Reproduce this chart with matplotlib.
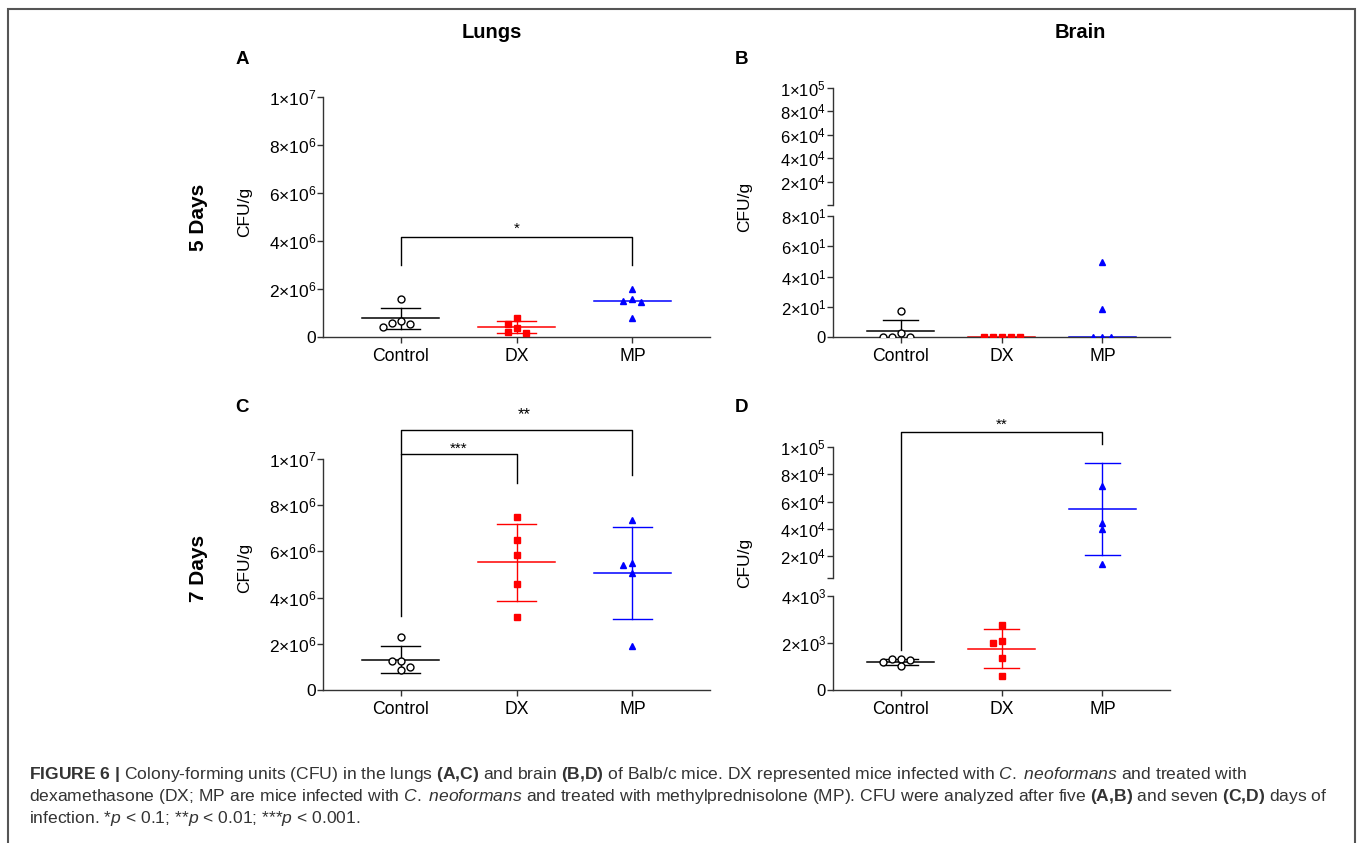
import matplotlib.pyplot as plt
import numpy as np
from matplotlib.lines import Line2D
from matplotlib.patches import Rectangle

plt.rcParams['font.family'] = ['Liberation Sans', 'DejaVu Sans']
plt.rcParams['mathtext.fontset'] = 'custom'
plt.rcParams['mathtext.rm'] = 'Liberation Sans'
plt.rcParams['mathtext.it'] = 'Liberation Sans:italic'
plt.rcParams['mathtext.bf'] = 'Liberation Sans:bold'

groups = ['Control', 'DX', 'MP']

# A: lungs, 5 days
a_control = [1.58e6, 0.65e6, 0.60e6, 0.55e6, 0.40e6]
a_dx = [0.78e6, 0.56e6, 0.39e6, 0.20e6, 0.18e6]
a_mp = [2.00e6, 1.58e6, 1.50e6, 1.44e6, 0.81e6]
a_centre = [0.78e6, 0.43e6, 1.51e6]
a_sd = [0.445e6, 0.255e6, 0]

# B: brain, 5 days
b_control = [17.3, 2.7, 0, 0, 0]
b_dx = [0, 0, 0, 0, 0]
b_mp = [49.3, 18.2, 0, 0, 0]
b_centre = [4.0, 0, 0]
b_sd = [7.5, 0, 0]

# C: lungs, 7 days
c_control = [2.30e6, 1.24e6, 1.24e6, 0.98e6, 0.86e6]
c_dx = [7.50e6, 6.50e6, 5.83e6, 4.59e6, 3.18e6]
c_mp = [7.38e6, 5.51e6, 5.40e6, 5.06e6, 1.90e6]
c_centre = [1.32e6, 5.52e6, 5.06e6]
c_sd = [0.575e6, 1.685e6, 1.98e6]

# D: brain, 7 days
d_control = [1.31e3, 1.30e3, 1.27e3, 1.20e3, 1.03e3]
d_dx = [2.76e3, 2.08e3, 2.01e3, 1.38e3, 0.59e3]
d_mp = [71.3e3, 44.5e3, 39.6e3, 14.1e3]
d_centre = [1.21e3, 1.765e3, 54.6e3]
d_sd = [0.13e3, 0.825e3, 33.5e3]

AX = '#333333'
RED = '#ff0000'
BLUE = '#0000ff'
W, H = 1360, 843

fig = plt.figure(figsize=(13.6, 8.43), dpi=100)


def box(l, r, top, bot):
    return [l / W, 1 - bot / H, (r - l) / W, (bot - top) / H]


def sci(m, e):
    return r'$\mathregular{%d{\times}10^{%d}}$' % (m, e)


def style(ax, ticks, labels, ysize, xaxis=True):
    ax.spines['top'].set_visible(False)
    ax.spines['right'].set_visible(False)
    for s in ['left', 'bottom']:
        ax.spines[s].set_color(AX)
        ax.spines[s].set_linewidth(1.0)
    ax.set_yticks(ticks)
    ax.set_yticklabels(labels)
    ax.tick_params(axis='y', direction='out', length=4, width=1, color=AX,
                   labelsize=ysize, pad=1)
    ax.set_xlim(-0.67, 2.67)
    if xaxis:
        ax.set_xticks([0, 1, 2])
        ax.set_xticklabels(groups)
        ax.tick_params(axis='x', direction='out', length=4, width=1, color=AX,
                       labelsize=12.7, pad=4)
    else:
        ax.spines['bottom'].set_visible(False)
        ax.set_xticks([])
    ax.patch.set_alpha(0)


def spread(ax, xc, vals, step=9, gap=6.5):
    to_px = ax.transData.transform
    unit = to_px((1, 0))[0] - to_px((0, 0))[0]
    placed, xs = [], []
    for v in vals:
        y = to_px((0, v))[1]
        dx = 0
        for k in [0, -1, 1, -2, 2, -3, 3]:
            dx = k * step
            if all(np.hypot(dx - px, y - py) >= gap for px, py in placed):
                break
        placed.append((dx, y))
        xs.append(xc + dx / unit)
    return xs


def draw_group(lo, hi, cut, xc, vals, centre, sd, color, marker, filled):
    mfc = color if filled else 'white'
    for ax, part in [(lo, [v for v in vals if v <= cut]),
                     (hi, [v for v in vals if v > cut])]:
        if ax is None or not part:
            continue
        xs = spread(ax, xc, part)
        ax.plot(xs, part, ls='none', marker=marker, ms=5, mfc=mfc, mec=color,
                mew=1, zorder=3)
    ax = hi if (hi is not None and centre > cut) else lo
    ax.plot([xc - 0.33, xc + 0.33], [centre, centre], color=color, lw=1.1, zorder=2)
    if sd > 0:
        ax.plot([xc, xc], [centre - sd, centre + sd], color=color, lw=1.0, zorder=2)
        for y in [centre - sd, centre + sd]:
            ax.plot([xc - 0.17, xc + 0.17], [y, y], color=color, lw=1.0, zorder=2)


def bracket(pts, star, star_at, size=12):
    inv = fig.transFigure.inverted()
    fp = [inv.transform(ax.transData.transform((x, y))) for ax, x, y in pts]
    fig.add_artist(Line2D([p[0] for p in fp], [p[1] for p in fp],
                          transform=fig.transFigure, color='black', lw=1.0))
    ax, x, y, off = star_at
    ax.annotate(star, (x, y), xytext=(0, off), textcoords='offset points',
                ha='center', va='bottom', fontsize=size, annotation_clip=False)


# panel A
axA = fig.add_axes(box(323, 710, 97, 337))
axA.set_ylim(0, 1e7)
style(axA, [0, 2e6, 4e6, 6e6, 8e6, 1e7],
      ['0', sci(2, 6), sci(4, 6), sci(6, 6), sci(8, 6), sci(1, 7)], 12.5)
# panel C
axC = fig.add_axes(box(323, 710, 459, 690))
axC.set_ylim(0, 1e7)
style(axC, [0, 2e6, 4e6, 6e6, 8e6, 1e7],
      ['0', sci(2, 6), sci(4, 6), sci(6, 6), sci(8, 6), sci(1, 7)], 12.5)

# panel B (broken axis)
axB_lo = fig.add_axes(box(833, 1170, 216, 337))
axB_lo.set_ylim(0, 80)
style(axB_lo, [0, 20, 40, 60, 80],
      ['0', sci(2, 1), sci(4, 1), sci(6, 1), sci(8, 1)], 12)
axB_hi = fig.add_axes(box(833, 1170, 88, 205))
axB_hi.set_ylim(80, 1e5)
style(axB_hi, [2e4, 4e4, 6e4, 8e4, 1e5],
      [sci(2, 4), sci(4, 4), sci(6, 4), sci(8, 4), sci(1, 5)], 12, xaxis=False)
axB_hi.set_yticks([80], minor=True)
axB_hi.tick_params(axis='y', which='minor', length=4, width=1, color=AX)

# panel D (broken axis)
axD_lo = fig.add_axes(box(833, 1170, 596, 690))
axD_lo.set_ylim(0, 4e3)
style(axD_lo, [0, 2e3, 4e3], ['0', sci(2, 3), sci(4, 3)], 12)
axD_hi = fig.add_axes(box(833, 1170, 447, 578))
axD_hi.set_ylim(4e3, 1e5)
style(axD_hi, [2e4, 4e4, 6e4, 8e4, 1e5],
      [sci(2, 4), sci(4, 4), sci(6, 4), sci(8, 4), sci(1, 5)], 12, xaxis=False)
axD_hi.set_yticks([4e3], minor=True)
axD_hi.tick_params(axis='y', which='minor', length=4, width=1, color=AX)

panels = [
    (axA, None, 1e7, [a_control, a_dx, a_mp], a_centre, a_sd),
    (axB_lo, axB_hi, 80, [b_control, b_dx, b_mp], b_centre, b_sd),
    (axC, None, 1e7, [c_control, c_dx, c_mp], c_centre, c_sd),
    (axD_lo, axD_hi, 4e3, [d_control, d_dx, d_mp], d_centre, d_sd),
]
looks = [('black', 'o', False), (RED, 's', True), (BLUE, '^', True)]
for lo, hi, cut, data, centre, sd in panels:
    for i, vals in enumerate(data):
        color, marker, filled = looks[i]
        draw_group(lo, hi, cut, i, vals, centre[i], sd[i], color, marker, filled)

# significance brackets
bracket([(axA, 0, 3.0e6), (axA, 0, 4.17e6), (axA, 2, 4.17e6), (axA, 2, 3.0e6)],
        '*', (axA, 1, 4.17e6, 1), 11)
bracket([(axC, 0, 3.2e6), (axC, 0, 10.2e6), (axC, 1, 10.2e6), (axC, 1, 8.96e6)],
        '***', (axC, 0.5, 10.2e6, -1), 11)
bracket([(axC, 0, 10.2e6), (axC, 0, 11.25e6), (axC, 2, 11.25e6), (axC, 2, 9.3e6)],
        '**', (axC, 1.07, 11.25e6, 6), 12)
bracket([(axD_lo, 0, 1.7e3), (axD_hi, 0, 111e3), (axD_hi, 2, 111e3), (axD_hi, 2, 102e3)],
        '**', (axD_hi, 1, 111e3, 0), 11)

# axis titles and labels
def ftext(x, y, s, **kw):
    fig.text(x / W, 1 - y / H, s, **kw)


for x, y in [(245, 212), (745, 207), (245, 568), (745, 563)]:
    ftext(x, y, 'CFU/g', rotation=90, ha='center', va='center', fontsize=12.5)
ftext(492, 33, 'Lungs', ha='center', va='center', fontsize=14.5, fontweight='bold')
ftext(1080, 33, 'Brain', ha='center', va='center', fontsize=14.5, fontweight='bold')
ftext(199, 217, '5 Days', rotation=90, ha='center', va='center', fontsize=15, fontweight='bold')
ftext(199, 568, '7 Days', rotation=90, ha='center', va='center', fontsize=15, fontweight='bold')
for s, x, y in [('A', 242, 59), ('B', 742, 59), ('C', 242, 407), ('D', 742, 407)]:
    ftext(x, y, s, ha='center', va='center', fontsize=13.5, fontweight='bold')

# caption
cap = [
    r"$\mathbf{FIGURE\ 6\ |}$ Colony-forming units (CFU) in the lungs $\mathbf{(A{,}C)}$ and brain "
    r"$\mathbf{(B{,}D)}$ of Balb/c mice. DX represented mice infected with $\mathit{C.}$ "
    r"$\mathit{neoformans}$ and treated with",
    r"dexamethasone (DX; MP are mice infected with $\mathit{C.}$ $\mathit{neoformans}$ and treated with "
    r"methylprednisolone (MP). CFU were analyzed after five $\mathbf{(A{,}B)}$ and seven "
    r"$\mathbf{(C{,}D)}$ days of",
    r"infection. *$\mathit{p}$ < 0.1; **$\mathit{p}$ < 0.01; ***$\mathit{p}$ < 0.001.",
]
for line, y in zip(cap, [774, 797, 819]):
    ftext(29, y, line, ha='left', va='center', fontsize=12.6, color='#333333')

# frame round the figure
fig.add_artist(Rectangle((8 / W, -0.02), 1347 / W, 1.02 - 9 / H, transform=fig.transFigure,
                         fill=False, edgecolor='#555555', lw=1.5))

fig.savefig('out.png', dpi=100)
